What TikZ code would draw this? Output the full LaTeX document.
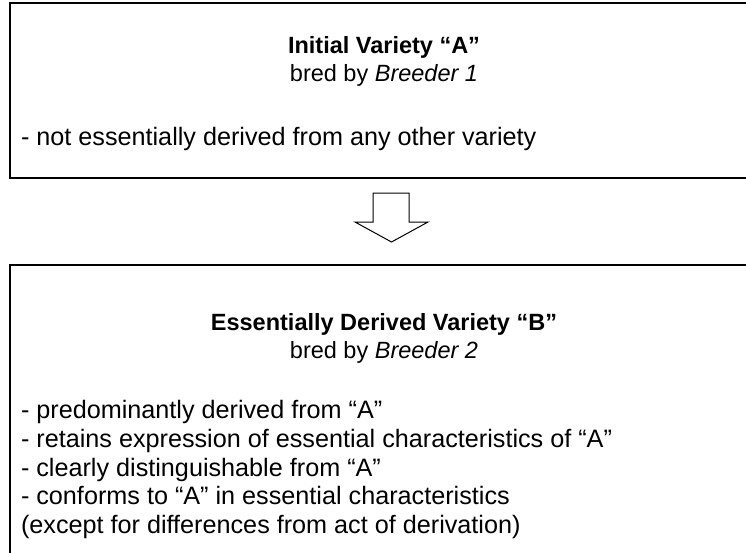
\documentclass[tikz,border=0pt]{standalone}
\usepackage{fontspec}
\setmainfont{Liberation Sans}
\usepackage{tikz}

\begin{document}
\begin{tikzpicture}[x=1pt, y=-1pt, line width=2pt,
    title/.style={anchor=base, inner sep=0pt, font=\fontsize{23.5}{28.5}\selectfont\bfseries},
    sub/.style={anchor=base, inner sep=0pt, font=\fontsize{23.5}{28.5}\selectfont},
    item/.style={anchor=base west, inner sep=0pt, font=\fontsize{25.2}{28.5}\selectfont}]
    \clip (0,0) rectangle (746,552);

    % initial variety
    \draw (758,178) -- (10,178) -- (10,3) -- (758,3);
    \node[title] (ta) at (384,53) {Initial Variety “A”};
    \node[sub] (ba) at (384,81.5) {bred by \textit{Breeder 1}};
    \node[item] (la) at (20,145) {- not essentially derived from any other variety};

    % arrow
    \draw[line width=1pt] (373,193) -- (409,193) -- (409,222) -- (428,222)
        -- (391.5,242) -- (355,222) -- (373,222) -- cycle;

    % essentially derived variety
    \draw (758,265) -- (10,265) -- (10,560);
    \node[title] (tb) at (384,330) {Essentially Derived Variety “B”};
    \node[sub] (bb) at (384,358.5) {bred by \textit{Breeder 2}};
    \node[item] (l1) at (20,418) {- predominantly derived from “A”};
    \node[item] (l2) at (20,447) {- retains expression of essential characteristics of “A”};
    \node[item] (l3) at (20,476) {- clearly distinguishable from “A”};
    \node[item] (l4) at (20,504.5) {- conforms to “A” in essential characteristics};
    \node[item] (l5) at (20,533) {(except for differences from act of derivation)};
\end{tikzpicture}
\end{document}
